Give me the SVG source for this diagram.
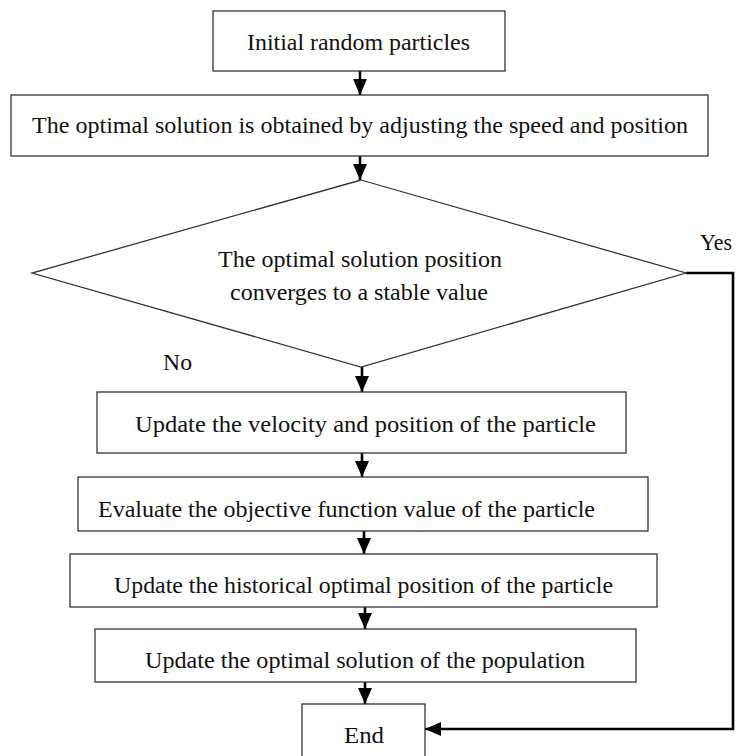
<svg xmlns="http://www.w3.org/2000/svg" width="736" height="756" viewBox="0 0 736 756">
<defs>
<style>
.box{fill:#fff;stroke:#333;stroke-width:1.3}
.t{font-family:"Liberation Serif","Times New Roman",serif;font-size:24px;fill:#111;text-anchor:middle}
.tl{font-family:"Liberation Serif","Times New Roman",serif;font-size:24px;fill:#111}
.c{fill:none;stroke:#000;stroke-width:2.6}
</style>
<marker id="ah" viewBox="0 0 16 14" refX="16" refY="7" markerWidth="16" markerHeight="14" markerUnits="userSpaceOnUse" orient="auto">
<path d="M0,0 L16,7 L0,14 z" fill="#000"/>
</marker>
</defs>
<rect width="736" height="756" fill="#fff"/>
<g id="connectors">
<line class="c" x1="360" y1="71" x2="360" y2="95" marker-end="url(#ah)"/>
<line class="c" x1="360" y1="156" x2="360" y2="180" marker-end="url(#ah)"/>
<line class="c" x1="362" y1="367" x2="362" y2="392" marker-end="url(#ah)"/>
<line class="c" x1="362" y1="453" x2="362" y2="477" marker-end="url(#ah)"/>
<line class="c" x1="364" y1="531" x2="364" y2="554" marker-end="url(#ah)"/>
<line class="c" x1="365" y1="607" x2="365" y2="629" marker-end="url(#ah)"/>
<line class="c" x1="365" y1="682" x2="365" y2="704" marker-end="url(#ah)"/>
<path class="c" d="M686,273 H733 V729 H425" marker-end="url(#ah)"/>
<text class="tl" x="700" y="250" textLength="32" lengthAdjust="spacingAndGlyphs">Yes</text>
<text class="tl" x="163" y="370" textLength="29" lengthAdjust="spacingAndGlyphs">No</text>
</g>
<g id="start">
<rect class="box" x="213" y="11" width="292" height="60"/>
<text class="t" x="358.5" y="50" textLength="223" lengthAdjust="spacingAndGlyphs">Initial random particles</text>
</g>
<g id="adjust">
<rect class="box" x="11" y="95" width="697" height="61"/>
<text class="t" x="360" y="133" textLength="656" lengthAdjust="spacingAndGlyphs">The optimal solution is obtained by adjusting the speed and position</text>
</g>
<g id="decision">
<polygon class="box" stroke-width="1.1" points="361,180 686,273 361,367 32,273"/>
<text class="t" x="360" y="267" textLength="284" lengthAdjust="spacingAndGlyphs">The optimal solution position</text>
<text class="t" x="359" y="300" textLength="258" lengthAdjust="spacingAndGlyphs">converges to a stable value</text>
</g>
<g id="update-velocity">
<rect class="box" x="97" y="392" width="529" height="61"/>
<text class="t" x="365.5" y="432" textLength="461" lengthAdjust="spacingAndGlyphs">Update the velocity and position of the particle</text>
</g>
<g id="evaluate">
<rect class="box" x="78" y="477" width="570" height="54"/>
<text class="t" x="346.5" y="517" textLength="497" lengthAdjust="spacingAndGlyphs">Evaluate the objective function value of the particle</text>
</g>
<g id="update-historical">
<rect class="box" x="70" y="554" width="587" height="53"/>
<text class="t" x="363.5" y="593" textLength="499" lengthAdjust="spacingAndGlyphs">Update the historical optimal position of the particle</text>
</g>
<g id="update-population">
<rect class="box" x="95" y="629" width="541" height="53"/>
<text class="t" x="365" y="668" textLength="440" lengthAdjust="spacingAndGlyphs">Update the optimal solution of the population</text>
</g>
<g id="end">
<rect class="box" x="302" y="704" width="123" height="60"/>
<text class="t" x="364" y="743" textLength="40" lengthAdjust="spacingAndGlyphs">End</text>
</g>
</svg>
